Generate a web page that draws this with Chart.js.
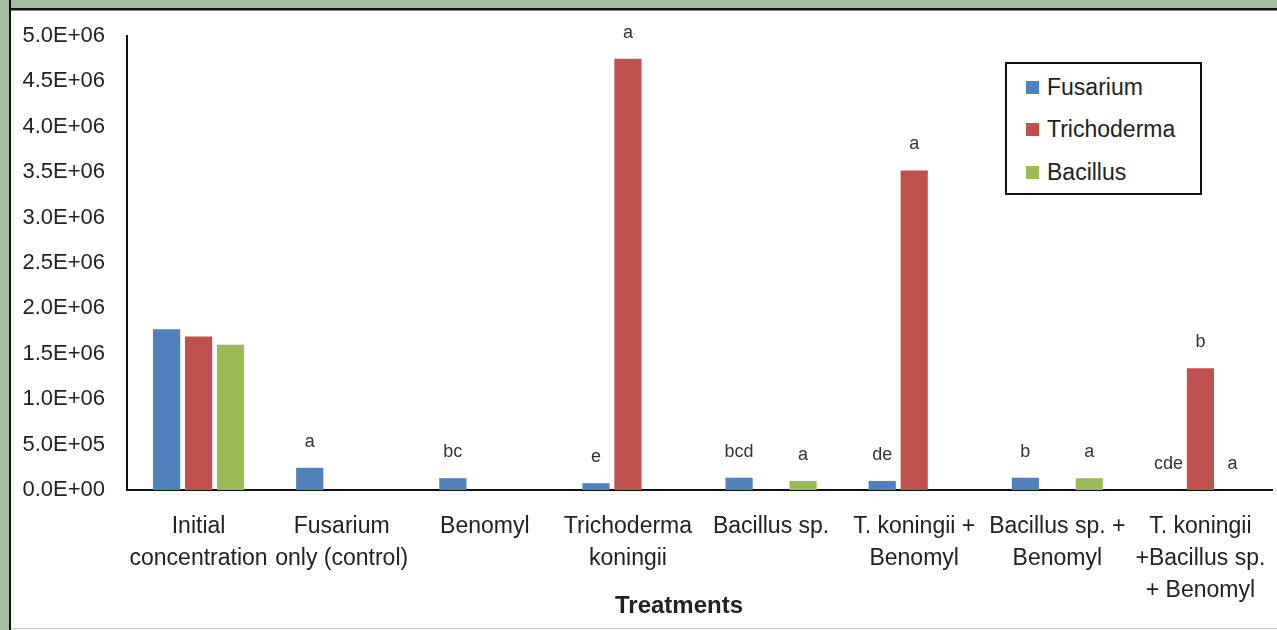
<!DOCTYPE html>
<html>
<head>
<meta charset="utf-8">
<script src="https://cdn.jsdelivr.net/npm/chart.js@4.4.1/dist/chart.umd.min.js"></script>
<style>
  html, body { margin: 0; padding: 0; background: #fff; }
  body { width: 1277px; height: 630px; position: relative; overflow: hidden; font-family: "Liberation Sans", Arial, sans-serif; }
  #c { position: absolute; left: 0; top: 0; }
  .frameTop { position: absolute; left: 0; top: 0; width: 1277px; height: 8px; background: #a5bda1; border-bottom: 2px solid #111; }
  .frameTop2 { position: absolute; left: 0; top: 10px; width: 1277px; height: 1px; background: #888; }
  .frameLeft { position: absolute; left: 0; top: 0; width: 9px; height: 630px; background: #a5bda1; border-right: 2px solid #111; }
  .frameBottom { position: absolute; left: 11px; top: 628px; width: 1266px; height: 1px; background: #c4c4c4; }
  #legend { position: absolute; left: 1005px; top: 62px; width: 193px; height: 129px; border: 2px solid #111; background: #fff; }
  .item { position: absolute; left: 0; height: 28px; line-height: 28px; font-size: 23px; color: #222; white-space: nowrap; }
  .sw { position: absolute; left: 19px; top: 8px; width: 13px; height: 13px; }
  .lbl { position: absolute; left: 40px; top: 0; }
  #xtitle { position: absolute; left: 579px; top: 591px; width: 200px; text-align: center; line-height: 28px; font-size: 24px; font-weight: bold; color: #222; }
</style>
</head>
<body>
<canvas id="c" width="1277" height="630"></canvas>
<div class="frameTop"></div>
<div class="frameTop2"></div>
<div class="frameLeft"></div>
<div class="frameBottom"></div>
<div id="legend"></div>
<div id="xtitle">Treatments</div>
<script>
// treatments on the x axis
var treatments = [
    ['Initial', 'concentration'],
    ['Fusarium', 'only (control)'],
    ['Benomyl'],
    ['Trichoderma', 'koningii'],
    ['Bacillus sp.'],
    ['T. koningii +', 'Benomyl'],
    ['Bacillus sp. +', 'Benomyl'],
    ['T. koningii', '+Bacillus sp.', '+ Benomyl']
];

var seriesNames = ['Fusarium', 'Trichoderma', 'Bacillus'];
var seriesColors = ['#4f81bd', '#c0504d', '#9bbb59'];

// values
var fusarium    = [1.77e6, 2.45e5, 1.3e5, 7.5e4, 1.35e5, 1.0e5, 1.35e5, 0];
var trichoderma = [1.69e6, 0, 0, 4.75e6, 0, 3.52e6, 0, 1.34e6];
var bacillus    = [1.60e6, 0, 0, 0, 1.0e5, 0, 1.3e5, 0];

// significance letters over the bars
var fusariumLetters    = ['', 'a', 'bc', 'e', 'bcd', 'de', 'b', 'cde'];
var trichodermaLetters = ['', '', '', 'a', '', 'a', '', 'b'];
var bacillusLetters    = ['', '', '', '', 'a', '', 'a', 'a'];

var yTicks = [0, 5e5, 1e6, 1.5e6, 2e6, 2.5e6, 3e6, 3.5e6, 4e6, 4.5e6, 5e6];

var seriesValues = [fusarium, trichoderma, bacillus];
var seriesLetters = [fusariumLetters, trichodermaLetters, bacillusLetters];

function sci(v) {
    var parts = Number(v).toExponential(1).split('e');
    var n = parseInt(parts[1], 10);
    return parts[0] + 'E' + (n < 0 ? '-' : '+') + String(Math.abs(n)).padStart(2, '0');
}

var FONT = '"Liberation Sans", Arial, sans-serif';

var letterPlugin = {
    id: 'letters',
    afterDatasetsDraw: function(chart) {
        var ctx = chart.ctx;
        ctx.save();
        ctx.font = '18px ' + FONT;
        ctx.fillStyle = '#333';
        ctx.textAlign = 'center';
        ctx.textBaseline = 'middle';
        chart.data.datasets.forEach(function(ds, i) {
            chart.getDatasetMeta(i).data.forEach(function(bar, j) {
                var t = ds.letters[j];
                if (t) ctx.fillText(t, bar.x, bar.y - 26);
            });
        });
        ctx.restore();
    }
};

var datasets = seriesNames.map(function(name, i) {
    return {
        label: name,
        data: seriesValues[i],
        letters: seriesLetters[i],
        backgroundColor: seriesColors[i],
        borderWidth: 0,
        categoryPercentage: 0.67,
        barPercentage: 0.85
    };
});

new Chart(document.getElementById('c'), {
    type: 'bar',
    data: {
        labels: treatments,
        datasets: datasets
    },
    options: {
        responsive: false,
        animation: false,
        devicePixelRatio: 1,
        layout: { padding: { left: 12, top: 36, right: 5, bottom: 10 } },
        plugins: {
            legend: { display: false },
            tooltip: { enabled: false }
        },
        scales: {
            x: {
                grid: { display: false, drawTicks: false },
                border: { display: true, color: '#111', width: 2 },
                ticks: {
                    autoSkip: false,
                    maxRotation: 0,
                    padding: 21,
                    color: '#222',
                    font: { family: FONT, size: 23, lineHeight: '32px' }
                },
                afterFit: function(scale) {
                    scale.height = 130;
                    scale.paddingLeft = 0;
                    scale.paddingRight = 0;
                }
            },
            y: {
                min: 0,
                max: 5e6,
                afterBuildTicks: function(scale) {
                    scale.ticks = yTicks.map(function(v) { return { value: v }; });
                },
                grid: { display: false, drawTicks: false },
                border: { display: true, color: '#111', width: 2 },
                ticks: {
                    padding: 22,
                    color: '#222',
                    font: { family: FONT, size: 22 },
                    callback: function(v) { return sci(v); }
                },
                afterFit: function(scale) { scale.width = 115; }
            }
        }
    },
    plugins: [letterPlugin]
});

// legend box
var legend = document.getElementById('legend');
var rowTops = [9, 51, 94];
seriesNames.forEach(function(name, i) {
    var item = document.createElement('div');
    item.className = 'item';
    item.style.top = rowTops[i] + 'px';
    item.innerHTML = '<span class="sw" style="background:' + seriesColors[i] + '"></span><span class="lbl">' + name + '</span>';
    legend.appendChild(item);
});
</script>
</body>
</html>
